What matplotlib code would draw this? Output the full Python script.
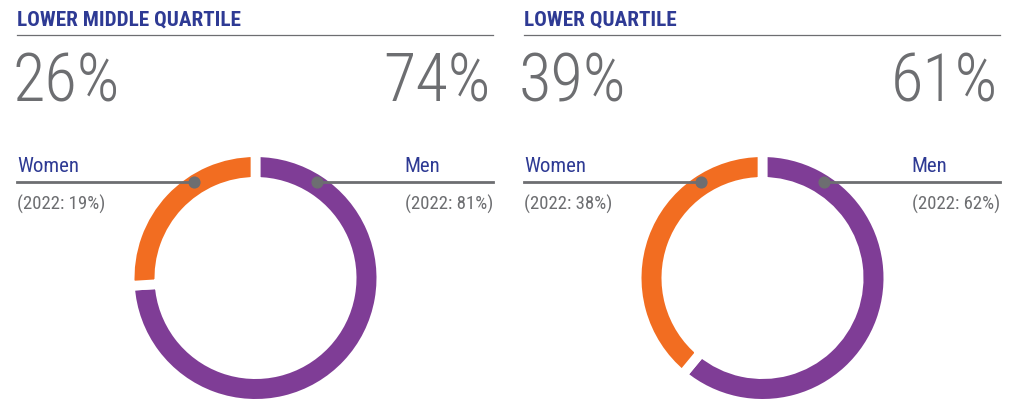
import matplotlib

matplotlib.use("Agg")
from matplotlib import pyplot as plt
import numpy as np

TITLES = ["LOWER MIDDLE QUARTILE", "LOWER QUARTILE"]
WOMEN = [26, 39]
MEN = [74, 61]
WOMEN_2022 = [19, 38]
MEN_2022 = [81, 62]

NAVY = "#2e3a94"
GREY = "#6d6e71"
ORANGE = "#f26d21"
PURPLE = "#7f3d96"
FONT = ["Roboto Condensed", "DejaVu Sans"]

W, H = 1023, 400
PANEL_X = [17, 524]
PANEL_W = 476
RING_R = 121
RING_W = 20
DOT_R = 114
CY = 278
LINE_Y = 182

fig = plt.figure(figsize=(W / 100, H / 100), dpi=100, facecolor="white")

# donuts first, overlay drawn on top
gap = 7.0  # white edge in points -> gap between slices
pad = gap / 72 * 100 / 2
for i in range(2):
    cx = PANEL_X[i] + PANEL_W / 2 + 0.5
    box = 140
    ax = fig.add_axes([(cx - box) / W, (H - CY - box) / H, 2 * box / W, 2 * box / H])
    ax.pie(
        [MEN[i], WOMEN[i]],
        colors=[PURPLE, ORANGE],
        startangle=90,
        counterclock=False,
        radius=RING_R + pad,
        wedgeprops=dict(width=RING_W + 2 * pad, edgecolor="white", linewidth=gap),
    )
    ax.set_xlim(-box, box)
    ax.set_ylim(-box, box)
    ax.set_aspect("equal")
    ax.axis("off")

ov = fig.add_axes([0, 0, 1, 1], facecolor="none")
ov.set_xlim(0, W)
ov.set_ylim(H, 0)
ov.axis("off")

for i in range(2):
    x0 = PANEL_X[i]
    x1 = x0 + PANEL_W
    cx = x0 + PANEL_W / 2 + 0.5
    ov.text(x0, 26, TITLES[i], color=NAVY, fontsize=15.2, fontweight="bold",
            family=FONT, va="baseline", ha="left")
    ov.plot([x0, x1], [34.5, 34.5], color=GREY, lw=0.9)
    ov.text(x0 - 5, 101, f"{WOMEN[i]}%", color=GREY, fontsize=48, fontweight="light",
            family=FONT, va="baseline", ha="left")
    ov.text(x1 - 2, 101, f"{MEN[i]}%", color=GREY, fontsize=48, fontweight="light",
            family=FONT, va="baseline", ha="right")

    ov.text(x0, 172, "Women", color=NAVY, fontsize=15, family=FONT,
            va="baseline", ha="left")
    ov.text(x1 - 89, 172, "Men", color=NAVY, fontsize=15, family=FONT,
            va="baseline", ha="left")
    ov.text(x0, 210, f"(2022: {WOMEN_2022[i]}%)", color=GREY, fontsize=13.5,
            family=FONT, va="baseline", ha="left")
    ov.text(x1, 210, f"(2022: {MEN_2022[i]}%)", color=GREY, fontsize=13.5,
            family=FONT, va="baseline", ha="right")

    dx = np.sqrt(DOT_R ** 2 - (CY - LINE_Y) ** 2)
    ov.plot([x0, cx - dx], [LINE_Y, LINE_Y], color=GREY, lw=2)
    ov.plot([cx + dx, x1], [LINE_Y, LINE_Y], color=GREY, lw=2)
    ov.scatter([cx - dx, cx + dx], [LINE_Y, LINE_Y], s=60, color=GREY, zorder=5)

fig.savefig("out.png", dpi=100, facecolor="white")
